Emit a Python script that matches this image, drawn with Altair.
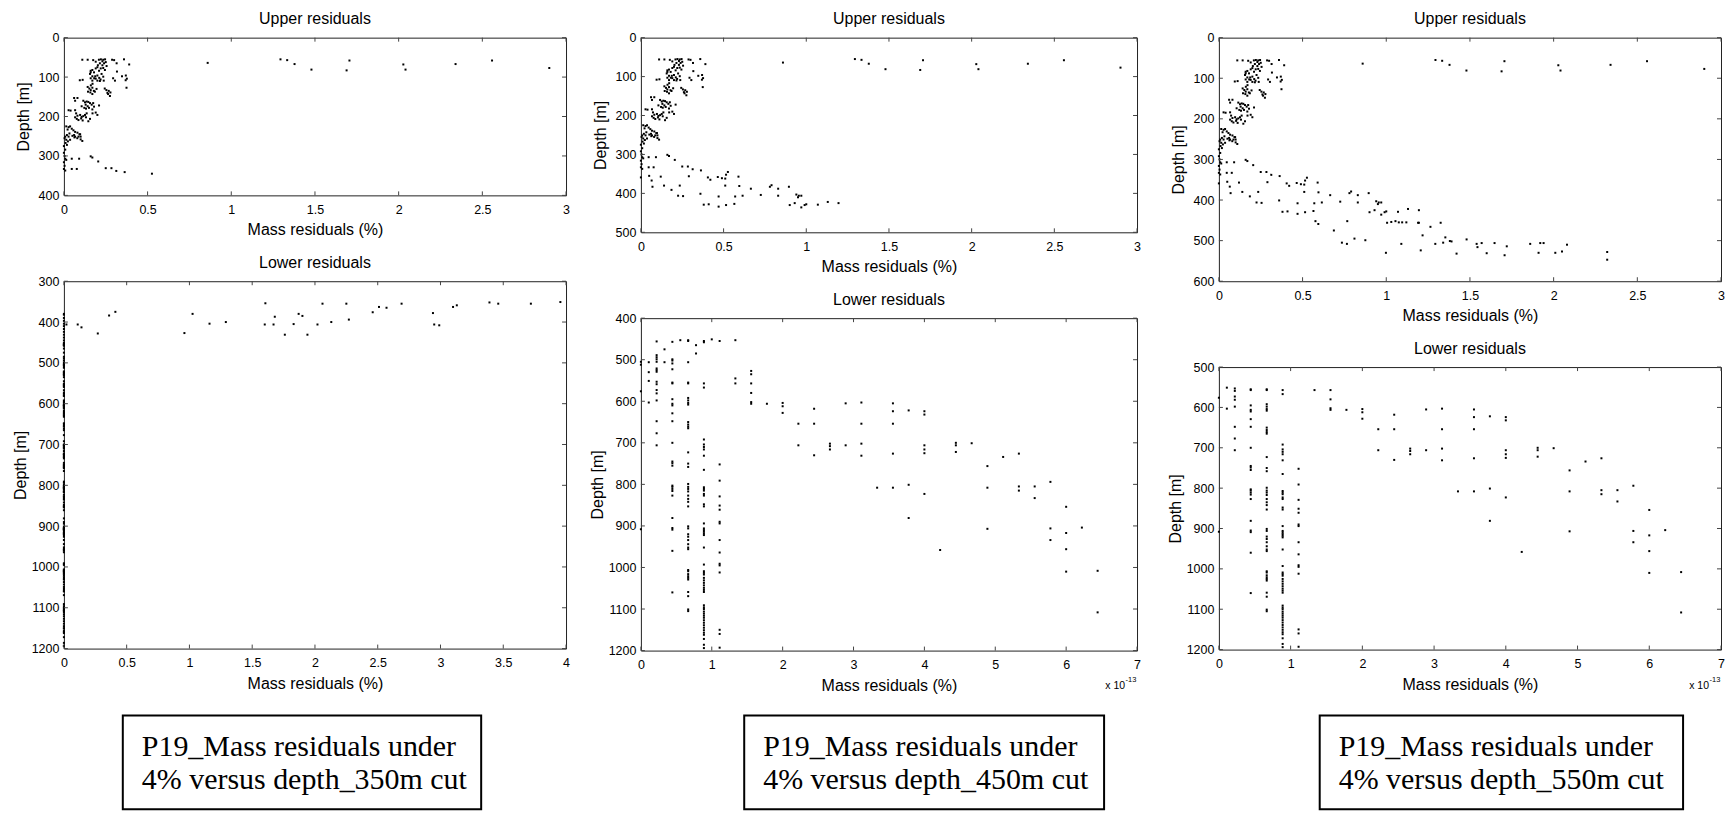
import altair as alt
import pandas as pd

FONT = "Liberation Sans"
SERIF = "Liberation Serif"
FRAME = "#222222"
TICK = "#444444"
TL = 4

# ---------------- data ----------------
# upper residuals: shared cluster (x in %, depth in m)
up_x_core = [0.11, 0.142, 0.175, 0.209, 0.221, 0.235, 0.246, 0.288, 0.30, 0.359,
             0.19, 0.215, 0.23, 0.24, 0.25, 0.315, 0.39, 0.23, 0.203,
             0.16, 0.17, 0.19, 0.20, 0.21, 0.22, 0.235, 0.245, 0.255, 0.18, 0.16, 0.317, 0.37,
             0.156, 0.17, 0.181, 0.19, 0.20, 0.211, 0.219, 0.225, 0.235, 0.16, 0.17, 0.187, 0.20,
             0.215, 0.238, 0.294, 0.305, 0.347, 0.369, 0.376, 0.095, 0.112,
             0.142, 0.152, 0.16, 0.17, 0.179, 0.144, 0.161, 0.171, 0.185, 0.195, 0.158, 0.244,
             0.254, 0.268, 0.278, 0.264, 0.374, 0.17, 0.275, 0.26,
             0.061, 0.081, 0.067, 0.116, 0.126, 0.136, 0.146, 0.156, 0.13, 0.142, 0.166, 0.175,
             0.106, 0.122, 0.132, 0.20, 0.19, 0.17, 0.15, 0.18, 0.21, 0.04,
             0.028, 0.067, 0.073, 0.081, 0.097, 0.106, 0.116, 0.126, 0.132, 0.077, 0.087, 0.112,
             0.136, 0.146, 0.171, 0.156, 0.067, 0.103,
             0.014, 0.028, 0.037, 0.022, 0.047, 0.057, 0.067, 0.081, 0.097, 0.033, 0.018, 0.008,
             0.051, 0.087, 0.063, 0.10, 0.11, 0.08,
             0.004, 0.014, 0.024, 0.037, 0.061, 0.093, 0.10, 0.01, 0.0, 0.018, 0.008, 0.028, 0.067,
             0.0, 0.004, 0.008, 0.014, 0.0, 0.004, 0.0, 0.008,
             0.047, 0.091, 0.16, 0.17, 0.205, 0.047, 0.077, 0.25, 0.284, 0.313, 0.363, 0.526]
up_d_core = [56, 56, 57, 56, 55, 56, 55, 56, 57, 55,
             61, 65, 60, 65, 62, 65, 68, 70, 70,
             84, 82, 78, 75, 84, 78, 77, 82, 72, 88, 88, 86, 96,
             92, 98, 103, 104, 96, 102, 106, 92, 99, 103, 109, 98, 109,
             110, 109, 103, 109, 98, 108, 104, 108, 107,
             125, 129, 133, 127, 135, 137, 121, 117, 137, 130, 139, 129,
             133, 135, 139, 143, 127, 143, 148, 140,
             153, 153, 160, 160, 164, 162, 163, 166, 170, 174, 170, 166,
             174, 178, 180, 196, 190, 182, 178, 175, 172, 185,
             184, 184, 192, 198, 196, 201, 199, 196, 202, 206, 209, 210,
             192, 212, 192, 206, 202, 205,
             225, 227, 225, 233, 231, 235, 239, 241, 245, 243, 247, 251,
             249, 251, 253, 258, 262, 255,
             255, 259, 263, 259, 247, 245, 251, 267, 275, 272, 284, 251, 251,
             292, 300, 307, 310, 316, 325, 333, 337,
             307, 307, 301, 304, 314, 333, 333, 331, 331, 338, 341, 345]

# upper residuals: isolated points near the surface
up_x_top = [0.859, 1.294, 1.334, 1.378, 1.479, 1.689, 1.706, 2.028, 2.041, 2.34, 2.558, 2.90]
up_d_top = [64, 55, 57, 67, 81, 83, 58, 68, 81, 67, 58, 77]

# upper residuals: 345-440 m (450 m and 550 m cuts)
up_x_mid = [0.0, 0.05, 0.065, 0.12, 0.07, 0.14, 0.185, 0.235, 0.225, 0.255, 0.29, 0.36, 0.38,
            0.41, 0.47, 0.515, 0.565, 0.405, 0.42, 0.465, 0.49, 0.51, 0.515, 0.59, 0.595,
            0.51, 0.47, 0.57, 0.615, 0.665, 0.725, 0.78, 0.79, 0.83, 0.83, 0.895, 0.94, 0.95,
            0.955, 0.97, 0.90, 0.93, 0.97, 0.99, 1.0, 1.07, 1.13, 1.195]
up_d_mid = [359, 355, 367, 357, 383, 380, 391, 380, 406, 407, 356, 401, 429,
            428, 434, 430, 427, 359, 365, 358, 361, 362, 352, 357, 381,
            380, 408, 408, 406, 388, 404, 383, 379, 388, 406, 383, 403, 410,
            406, 406, 430, 425, 436, 430, 428, 429, 422, 425]

# upper residuals: 440-550 m (550 m cut)
up_x_deep = [0.577, 0.594, 0.687, 0.767, 0.735, 0.765, 0.81, 0.875, 0.998, 1.005, 1.03, 1.055,
             1.075, 1.095, 1.12, 1.19, 1.195, 1.09, 1.206, 1.217, 1.264, 1.293, 1.325, 1.34,
             1.353, 1.38, 1.39, 1.42, 1.48, 1.54, 1.545, 1.57, 1.60, 1.647, 1.707, 1.72, 1.86,
             1.91, 1.92, 1.94, 2.01, 2.05, 2.08, 2.32, 2.32]
up_d_deep = [452, 459, 475, 452, 505, 508, 495, 499, 530, 456, 454, 452,
             455, 455, 455, 456, 456, 508, 524, 487, 466, 508, 456, 505,
             492, 501, 502, 532, 497, 508, 516, 506, 531, 506, 536, 514, 508,
             530, 506, 506, 530, 527, 510, 528, 547]

# lower residuals, 350 m cut: scattered points (x in %)
lo1_x = [0.0, 0.02, 0.11, 0.14, 0.27, 0.36, 0.41, 0.96, 1.025, 1.16, 1.29, 1.605, 1.60, 1.67,
         1.68, 1.76, 1.83, 1.87, 1.90, 1.94, 2.02, 2.06, 2.13, 2.25, 2.27, 2.46, 2.51, 2.57,
         2.69, 2.94, 2.95, 2.99, 3.10, 3.13, 3.39, 3.46, 3.72, 3.955]
lo1_d = [380, 406, 406, 413, 428, 384, 375, 427, 380, 404, 400, 354, 406, 406,
         387, 431, 405, 380, 385, 431, 406, 355, 400, 355, 394, 376, 363, 365,
         355, 378, 406, 408, 363, 359, 352, 355, 355, 351]
lo1_zero_d = [382, 390, 397, 404, 410, 417, 424, 431, 438, 445]

# lower residuals (x in units of 1e-13 %): columns of equal x
lo_col_x = [0.0, 0.111, 0.222, 0.333, 0.444, 0.556, 0.667, 0.778, 0.889, 1.0, 1.111, 1.333,
            1.556, 1.778, 2.0, 2.222, 2.444, 2.667, 2.889, 3.111, 3.333, 3.556, 3.778, 4.0,
            4.222, 4.444, 4.667, 4.889, 5.111, 5.333, 5.556, 5.778, 6.0, 6.222, 6.444]
lo_col_d = [
    [505, 512, 576, 908],
    [506, 530, 551, 603],
    [456, 489, 494, 499, 505, 521, 525, 529, 553, 559, 573, 581, 598, 648, 677, 706],
    [475, 506],
    [457, 499, 502, 509, 523, 555, 557, 595, 606, 610, 629, 648, 700, 745, 749, 755, 803,
     806, 811, 816, 827, 881, 905, 909, 960, 1060],
    [453],
    [453, 455, 506, 555, 557, 592, 598, 604, 608, 650, 656, 661, 665, 723, 750, 758, 799,
     806, 811, 817, 827, 835, 842, 853, 901, 906, 920, 926, 934, 944, 952, 956, 1006, 1009,
     1016, 1021, 1025, 1029, 1059, 1069, 1101, 1105],
    [465, 485],
    [455, 458, 557, 567, 692, 704, 710, 716, 731, 765, 807, 811, 815, 823, 827, 848, 853,
     894, 906, 910, 914, 918, 922, 952, 993, 1009, 1013, 1017, 1025, 1031, 1037, 1043, 1049,
     1054, 1059, 1091, 1096, 1100, 1106, 1111, 1116, 1121, 1127, 1133, 1139, 1145, 1151,
     1157, 1162, 1172, 1186, 1194],
    [451],
    [455, 752, 791, 829, 851, 861, 890, 894, 934, 964, 991, 995, 1012, 1150, 1160, 1193],
    [453, 545, 557],
    [527, 535, 557, 580, 602, 606],
    [606],
    [604, 612, 628],
    [654, 706],
    [618, 654, 730],
    [702, 708, 716],
    [605, 706],
    [603, 654, 702, 731],
    [808],
    [605, 624, 654, 726, 808],
    [622, 801, 881],
    [624, 632, 706, 716, 725, 823],
    [958],
    [700, 706, 722],
    [701],
    [756, 808, 907],
    [734],
    [726, 805, 815],
    [805, 833],
    [794, 906, 934],
    [854, 917, 956, 1010],
    [904],
    [1008, 1108],
]

titles_up = "Upper residuals"
titles_lo = "Lower residuals"
x_title = "Mass residuals (%)"
y_title = "Depth [m]"
box_lines = [["P19_Mass residuals under", "4% versus depth_350m cut"],
             ["P19_Mass residuals under", "4% versus depth_450m cut"],
             ["P19_Mass residuals under", "4% versus depth_550m cut"]]
exp_base = "x 10"
exp_pow = "-13"

# ---------------- tables ----------------
def frame(xs, ds):
    return pd.DataFrame({"x": xs, "d": ds})

core = frame(up_x_core + up_x_top, up_d_core + up_d_top)
mid = frame(up_x_mid, up_d_mid)
deep = frame(up_x_deep, up_d_deep)
up1 = core
up2 = pd.concat([core, mid], ignore_index=True)
up3 = pd.concat([core, mid, deep], ignore_index=True)

lo_x, lo_d = [], []
for xv, ds in zip(lo_col_x, lo_col_d):
    for dv in ds:
        lo_x.append(xv)
        lo_d.append(dv)
lo2 = frame(lo_x, lo_d)
lo3 = lo2[lo2["d"] > 550].reset_index(drop=True)
zero_d = sorted(set(lo1_zero_d + lo_d))
lo1 = pd.concat([frame(lo1_x, lo1_d), frame([0.0] * len(zero_d), zero_d)], ignore_index=True)


def rng(a, b, s):
    out, v = [], a
    while v <= b + 1e-9:
        out.append(round(v, 6))
        v += s
    return out


def panel(df, xdom, ydom, xt, yt, w, h, title, ytp, extra=()):
    xs = alt.Scale(domain=xdom, nice=False, zero=False)
    ys = alt.Scale(domain=ydom, nice=False, zero=False, reverse=True)
    xa = alt.Axis(values=xt, format="~g", title=x_title)
    ya = alt.Axis(values=yt, format="d", title=y_title, titlePadding=ytp)
    pts = alt.Chart(df).mark_square(size=4, color="black", opacity=1).encode(
        x=alt.X("x:Q", scale=xs, axis=xa),
        y=alt.Y("d:Q", scale=ys, axis=ya),
    )
    tx = pd.DataFrame({"x": xt})
    ty = pd.DataFrame({"d": yt})
    rk = dict(color=TICK, strokeWidth=1)
    bot = alt.Chart(tx).mark_rule(**rk).encode(
        x=alt.X("x:Q", scale=xs, axis=xa), y=alt.value(h), y2=alt.value(h - TL))
    top = alt.Chart(tx).mark_rule(**rk).encode(
        x=alt.X("x:Q", scale=xs, axis=xa), y=alt.value(0), y2=alt.value(TL))
    lef = alt.Chart(ty).mark_rule(**rk).encode(
        y=alt.Y("d:Q", scale=ys, axis=ya), x=alt.value(0), x2=alt.value(TL))
    rig = alt.Chart(ty).mark_rule(**rk).encode(
        y=alt.Y("d:Q", scale=ys, axis=ya), x=alt.value(w), x2=alt.value(w - TL))
    return alt.layer(pts, bot, top, lef, rig, *extra).properties(
        width=w, height=h, title=alt.TitleParams(title, frame="group", offset=4.5))


def box(lines, bx0, bx1, by0, by1):
    rect = alt.Chart(pd.DataFrame({"t": [lines[0]]})).mark_rect(
        fill="white", stroke="black", strokeWidth=2).encode(
        x=alt.value(bx0), x2=alt.value(bx1), y=alt.value(by0), y2=alt.value(by1))
    layers = [rect]
    for i, ln in enumerate(lines):
        layers.append(
            alt.Chart(pd.DataFrame({"t": [ln]})).mark_text(
                font=SERIF, fontSize=30, align="left", baseline="alphabetic", color="black"
            ).encode(text="t:N", x=alt.value(bx0 + 19), y=alt.value(by0 + 40.7 + 32.5 * i)))
    return layers


def expo(xr, ym):
    a = alt.Chart(pd.DataFrame({"t": [exp_base]})).mark_text(
        font=FONT, fontSize=10.5, align="right", baseline="middle", color="black").encode(
        text="t:N", x=alt.value(xr), y=alt.value(ym))
    b = alt.Chart(pd.DataFrame({"t": [exp_pow]})).mark_text(
        font=FONT, fontSize=7.5, align="left", baseline="middle", color="black").encode(
        text="t:N", x=alt.value(xr + 0.5), y=alt.value(ym - 6))
    return [a, b]


def spacer(xpos):
    # invisible mark that only widens the column bounds
    return [alt.Chart(pd.DataFrame({"t": [""]})).mark_rule(opacity=0, strokeWidth=1).encode(
        x=alt.value(xpos), y=alt.value(0), y2=alt.value(1))]


W1, W2, W3 = 503, 497, 503
H1u, H2u, H3u = 158, 195, 244
H1l, H2l, H3l = 368, 333, 283
VS = 86

p1u = panel(up1, [0, 3], [0, 400], rng(0, 3, 0.5), rng(0, 400, 100), W1, H1u, titles_up, 7)
p2u = panel(up2, [0, 3], [0, 500], rng(0, 3, 0.5), rng(0, 500, 100), W2, H2u, titles_up, 7)
p3u = panel(up3, [0, 3], [0, 600], rng(0, 3, 0.5), rng(0, 600, 100), W3, H3u, titles_up, 7)

p1l = panel(lo1, [0, 4], [300, 1200], rng(0, 4, 0.5), rng(300, 1200, 100), W1, H1l, titles_lo, 3,
            extra=box(box_lines[0], 59, 418, 435, 529))
p2l = panel(lo2, [0, 7], [400, 1200], rng(0, 7, 1), rng(400, 1200, 100), W2, H2l, titles_lo, 3,
            extra=expo(W2 - 12, 368) + box(box_lines[1], 103.5, 464, 398, 492) + spacer(507))
p3l = panel(lo3, [0, 7], [500, 1200], rng(0, 7, 1), rng(500, 1200, 100), W3, H3l, titles_lo, 3,
            extra=expo(W3 - 12, 319) + box(box_lines[2], 101, 465, 349, 443))

col1 = alt.vconcat(p1u, p1l, spacing=VS, bounds="flush")
col2 = alt.vconcat(p2u, p2l, spacing=VS, bounds="flush")
col3 = alt.vconcat(p3u, p3l, spacing=VS, bounds="flush")

chart = alt.hconcat(col1, col2, col3, spacing=18).properties(
    padding={"left": 3, "top": 2, "right": 0, "bottom": 0}, background="white"
).configure_view(
    stroke=FRAME, strokeWidth=1
).configure_axis(
    domain=False, ticks=False, grid=False, labelFont=FONT, labelFontSize=12.5,
    labelColor="black", titleFont=FONT, titleFontSize=16, titleFontWeight="normal",
    titleColor="black", labelFlush=False, labelOverlap=False,
).configure_axisX(
    labelPadding=8, titlePadding=6
).configure_axisY(
    labelPadding=5
).configure_title(
    font=FONT, fontSize=16, fontWeight="normal", color="black", anchor="middle"
)

chart.save("out.html", embed_options={"renderer": "svg", "actions": False})
